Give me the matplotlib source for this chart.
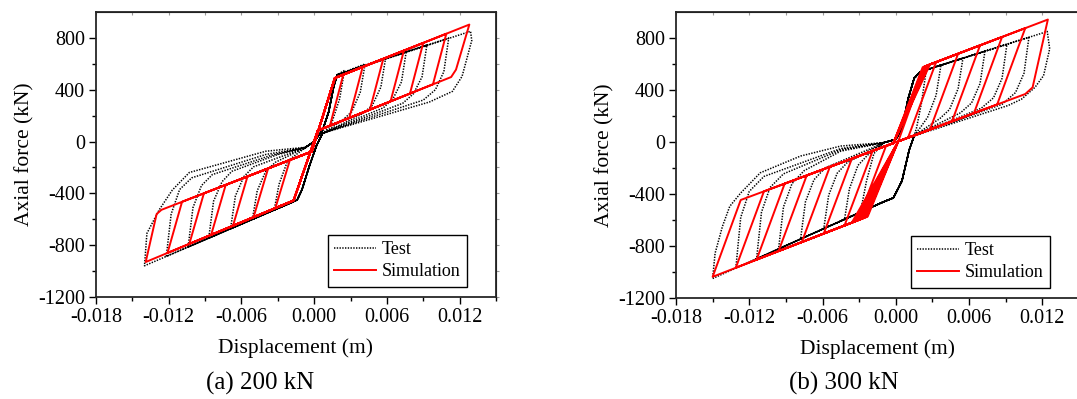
import matplotlib
matplotlib.use("Agg")
import matplotlib.pyplot as plt

plt.rcParams['font.family'] = ['Liberation Serif', 'DejaVu Serif']
plt.rcParams['axes.unicode_minus'] = False

# ---------------- panel (a) 200 kN ----------------
# simulation (red), vertices: displacement (m), force (kN)
sim_a_up_x = [-0.0002, 0.0017]
sim_a_up_y = [-77, 490]
sim_a_dn_x = [0.0003, -0.0017]
sim_a_dn_y = [85, -455]
sim_a_pos_x = [[0.0024, 0.0013], [0.0040, 0.0029], [0.0057, 0.0046], [0.0074, 0.0063],
               [0.0090, 0.0079], [0.0109, 0.0098], [0.0128, 0.0117, 0.0113]]
sim_a_pos_y = [[516, 122], [576, 183], [639, 246], [702, 310],
               [762, 370], [832, 442], [903, 555, 498]]
sim_a_neg_x = [[-0.0032, -0.0020], [-0.0050, -0.0038], [-0.0067, -0.0055], [-0.0085, -0.0073],
               [-0.0103, -0.0091], [-0.0121, -0.0109], [-0.0139, -0.0130, -0.0126]]
sim_a_neg_y = [[-513, -142], [-583, -208], [-650, -269], [-720, -335],
               [-790, -400], [-860, -465], [-930, -560, -527]]

# test (black dotted)
test_a_up_x = [-0.0007, 0.0000, 0.0007, 0.0012, 0.0016, 0.0019]
test_a_up_y = [-44, 0, 90, 230, 420, 515]
test_a_dn_x = [0.0007, 0.0002, -0.0004, -0.0010, -0.0014, -0.0018]
test_a_dn_y = [65, -30, -190, -370, -450, -468]
test_a_pos_x = [[0.0025, 0.0021, 0.0014, 0.0008],
                [0.0042, 0.0038, 0.0031, 0.0024, 0.0009],
                [0.0059, 0.0055, 0.0048, 0.0040, 0.0009],
                [0.0076, 0.0072, 0.0065, 0.0057, 0.0008],
                [0.0093, 0.0089, 0.0082, 0.0073, 0.0008],
                [0.0111, 0.0107, 0.0100, 0.0090, 0.0007],
                [0.0129, 0.0130, 0.0122, 0.0114, 0.0095, 0.0007]]
test_a_pos_y = [[549, 330, 130, 70],
                [599, 380, 230, 170, 72],
                [648, 420, 280, 215, 70],
                [697, 460, 330, 260, 68],
                [747, 500, 370, 295, 66],
                [799, 540, 400, 320, 65],
                [851, 780, 503, 387, 305, 65]]
test_a_neg_x = [[-0.0033, -0.0029, -0.0022, -0.0007],
                [-0.0051, -0.0047, -0.0040, -0.0032, -0.0007],
                [-0.0069, -0.0065, -0.0058, -0.0050, -0.0007],
                [-0.0087, -0.0083, -0.0076, -0.0068, -0.0030, -0.0007],
                [-0.0104, -0.0100, -0.0093, -0.0084, -0.0035, -0.0007],
                [-0.0122, -0.0118, -0.0111, -0.0101, -0.0040, -0.0007],
                [-0.0140, -0.0138, -0.0128, -0.0117, -0.0103, -0.0040, -0.0007]]
test_a_neg_y = [[-528, -330, -150, -46],
                [-601, -380, -230, -160, -46],
                [-673, -420, -270, -195, -46],
                [-745, -460, -310, -230, -100, -46],
                [-814, -510, -340, -255, -105, -46],
                [-886, -560, -370, -280, -100, -46],
                [-959, -709, -529, -374, -239, -75, -44]]

# ---------------- panel (b) 300 kN ----------------
sim_b_up_x = [-0.0002]
sim_b_up_y = [-9]
sim_b_dn_x = [0.0002]
sim_b_dn_y = [5]
sim_b_pos_x = [[0.0022, 0.0024, 0.0002], [0.0023, 0.0033, 0.0010], [0.0024, 0.0051, 0.0028],
               [0.0025, 0.0069, 0.0046], [0.0026, 0.0087, 0.0064], [0.0027, 0.0106, 0.0083],
               [0.0028, 0.01245, 0.0112, 0.0106]]
sim_b_pos_y = [[575, 582, 5], [579, 615, 33], [582, 679, 96],
               [586, 744, 159], [590, 808, 222], [593, 876, 289],
               [597, 942, 420, 369]]
sim_b_neg_x = [[-0.0023, -0.0031, -0.0008], [-0.0024, -0.0042, -0.0019], [-0.0026, -0.0059, -0.0036],
               [-0.0028, -0.0077, -0.0054], [-0.0030, -0.0096, -0.0073], [-0.0032, -0.0114, -0.0091],
               [-0.0034, -0.0131, -0.0108], [-0.0036, -0.0150, -0.0127]]
sim_b_neg_y = [[-573, -602, -30], [-577, -642, -68], [-584, -704, -128],
               [-591, -770, -191], [-599, -839, -258], [-606, -905, -320],
               [-613, -967, -380], [-620, -1037, -446]]

test_b_up_x = [-0.0010, 0.0000, 0.0005, 0.0010, 0.0015, 0.0020]
test_b_up_y = [-5, 20, 100, 330, 490, 540]
test_b_dn_x = [0.0015, 0.0011, 0.0005, -0.0002, -0.0010]
test_b_dn_y = [47, -60, -300, -430, -460]
test_b_pos_x = [[0.0025, 0.0021, 0.0017, 0.0015],
                [0.0037, 0.0033, 0.0026, 0.0020, 0.0015],
                [0.0055, 0.0051, 0.0044, 0.0036, 0.0015],
                [0.0073, 0.0069, 0.0062, 0.0053, 0.0015],
                [0.0091, 0.0087, 0.0080, 0.0070, 0.0015],
                [0.0109, 0.0105, 0.0098, 0.0087, 0.0015],
                [0.0124, 0.0126, 0.0121, 0.0114, 0.0103, 0.0092, 0.0015]]
test_b_pos_y = [[557, 300, 110, 47],
                [593, 360, 190, 110, 50],
                [646, 410, 250, 180, 50],
                [699, 450, 300, 225, 48],
                [752, 490, 340, 260, 48],
                [806, 530, 380, 290, 47],
                [850, 717, 511, 421, 330, 281, 47]]
test_b_neg_x = [[-0.0029, -0.0024, -0.0018, -0.0010],
                [-0.0042, -0.0038, -0.0031, -0.0023, -0.0010],
                [-0.0059, -0.0055, -0.0048, -0.0040, -0.0010],
                [-0.0078, -0.0074, -0.0067, -0.0058, -0.0010],
                [-0.0096, -0.0092, -0.0085, -0.0075, -0.0045, -0.0010],
                [-0.0114, -0.0110, -0.0103, -0.0092, -0.0045, -0.0010],
                [-0.0131, -0.0127, -0.0120, -0.0108, -0.0045, -0.0010],
                [-0.0150, -0.0148, -0.0142, -0.0136, -0.0127, -0.0111, -0.0078, -0.0045, -0.0010]]
test_b_neg_y = [[-540, -300, -90, -5],
                [-595, -360, -180, -100, -8],
                [-666, -410, -240, -160, -8],
                [-746, -460, -290, -200, -8],
                [-822, -500, -320, -220, -70, -6],
                [-898, -540, -350, -245, -60, -6],
                [-970, -580, -380, -265, -50, -5],
                [-1050, -856, -650, -495, -392, -237, -108, -31, -5]]


def build_path(up_x, up_y, dn_x, dn_y, pos_x, pos_y, neg_x, neg_y, first):
    """chain the branches: yield up -> positive arm -> down -> negative arm -> ..."""
    xs, ys = [0.0], [0.0]
    pos = list(zip(pos_x, pos_y))
    neg = list(zip(neg_x, neg_y))
    order = []
    if first == 'neg':
        order.append(('neg', neg.pop(0)))
    while pos or neg:
        if pos:
            order.append(('pos', pos.pop(0)))
        if neg:
            order.append(('neg', neg.pop(0)))
    for side, (ax_, ay_) in order:
        if side == 'pos':
            xs += up_x; ys += up_y
        else:
            xs += dn_x; ys += dn_y
        xs += ax_; ys += ay_
    xs += up_x; ys += up_y
    return xs, ys


panels = [
    dict(sim=(sim_a_up_x, sim_a_up_y, sim_a_dn_x, sim_a_dn_y, sim_a_pos_x, sim_a_pos_y, sim_a_neg_x, sim_a_neg_y, 'pos'),
         test=(test_a_up_x, test_a_up_y, test_a_dn_x, test_a_dn_y, test_a_pos_x, test_a_pos_y, test_a_neg_x, test_a_neg_y, 'pos'),
         rect=[96 / 1077, 102 / 399, 400 / 1077, 285 / 399], caption='(a) 200 kN', cap_x=260 / 1077),
    dict(sim=(sim_b_up_x, sim_b_up_y, sim_b_dn_x, sim_b_dn_y, sim_b_pos_x, sim_b_pos_y, sim_b_neg_x, sim_b_neg_y, 'neg'),
         test=(test_b_up_x, test_b_up_y, test_b_dn_x, test_b_dn_y, test_b_pos_x, test_b_pos_y, test_b_neg_x, test_b_neg_y, 'neg'),
         rect=[676 / 1077, 101 / 399, 403 / 1077, 286 / 399], caption='(b) 300 kN', cap_x=844 / 1077),
]

xticks = [-0.018, -0.012, -0.006, 0.000, 0.006, 0.012]
yticks = [-1200, -800, -400, 0, 400, 800]

fig = plt.figure(figsize=(10.77, 3.99), dpi=100)

for p in panels:
    ax = fig.add_axes(p['rect'])
    tx, ty = build_path(*p['test'])
    sx, sy = build_path(*p['sim'])
    ax.plot(tx, ty, color='black', lw=1.1, linestyle=(0, (0.9, 0.9)), label='Test')
    ax.plot(sx, sy, color='#ff0000', lw=1.4, label='Simulation')

    ax.set_xlim(-0.018, 0.015)
    ax.set_ylim(-1200, 1000)
    ax.set_xticks(xticks)
    ax.set_xticklabels(['%.3f' % v for v in xticks])
    ax.set_yticks(yticks)
    ax.set_xticks([-0.015, -0.009, -0.003, 0.003, 0.009, 0.015], minor=True)
    ax.set_yticks([-1000, -600, -200, 200, 600], minor=True)
    ax.tick_params(which='major', direction='out', length=5, width=1, labelsize=14.5, pad=3)
    ax.tick_params(which='minor', direction='out', length=3, width=1)
    for s in ax.spines.values():
        s.set_linewidth(1.3)
        s.set_color('0.15')
    ax.set_xlabel('Displacement (m)', fontsize=15.5, labelpad=8)
    ax.set_ylabel('Axial force (kN)', fontsize=15.5, labelpad=2.5)

    # faint mirror ticks on top / right
    top = ax.secondary_xaxis('top')
    top.set_xticks(xticks + [-0.015, -0.009, -0.003, 0.003, 0.009])
    top.tick_params(direction='in', length=2, color='0.6', labeltop=False)
    right = ax.secondary_yaxis('right')
    right.set_yticks(yticks + [-1000, -600, -200, 200, 600])
    right.tick_params(direction='out', length=2, color='0.6', labelright=False)

    leg = ax.legend(loc='lower right', bbox_to_anchor=(0.928, 0.036), fontsize=13,
                    frameon=True, fancybox=False, framealpha=1, edgecolor='black',
                    handlelength=2.3, handletextpad=0.35, labelspacing=0.3,
                    borderpad=0.35, borderaxespad=0)
    leg.get_frame().set_linewidth(1.0)

    fig.text(p['cap_x'], 16 / 399, p['caption'], ha='center', va='center', fontsize=18)

fig.savefig('out.png', dpi=100)
